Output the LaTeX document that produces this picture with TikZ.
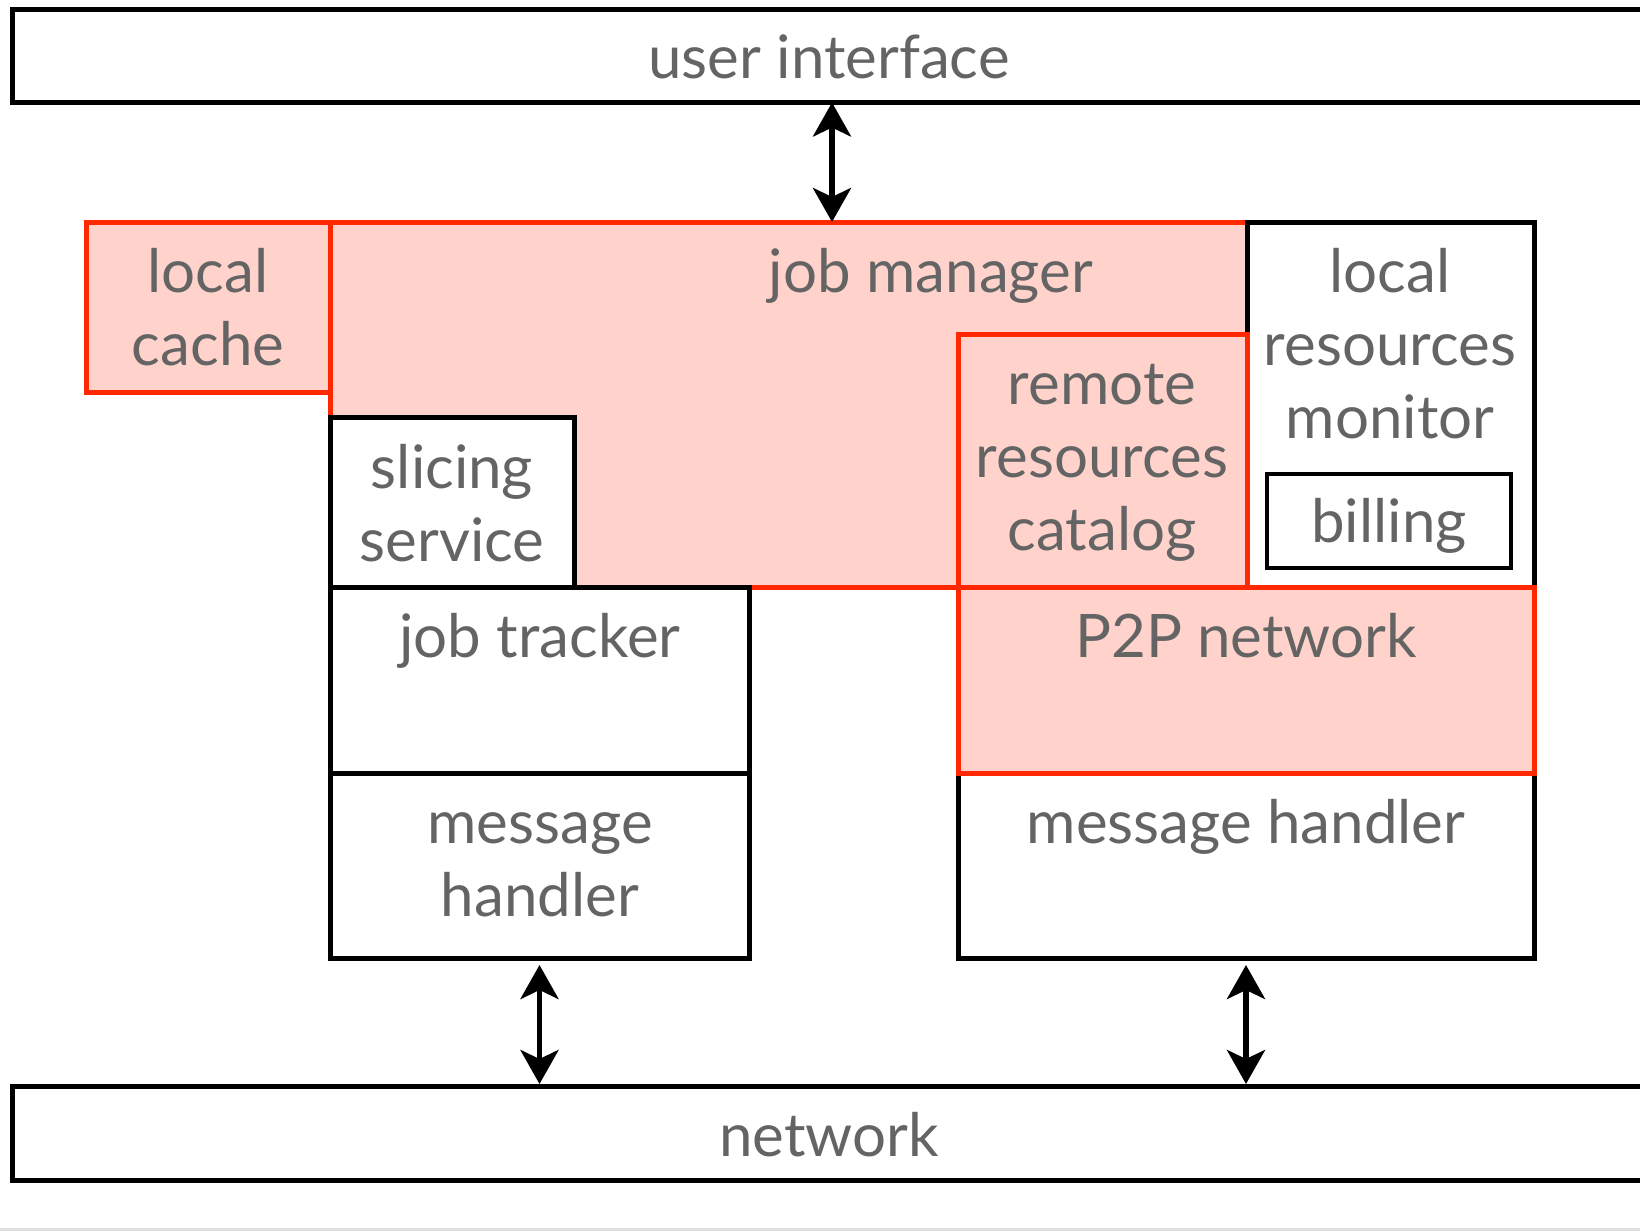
\documentclass[tikz,border=0pt]{standalone}
\usepackage{fontspec}
\setmainfont{Lato}
\usetikzlibrary{arrows.meta}
\definecolor{boxred}{RGB}{255,40,0}
\definecolor{boxpink}{RGB}{255,211,203}
\definecolor{txtgray}{RGB}{100,100,100}
\begin{document}
\begin{tikzpicture}[x=0.5pt,y=-0.5pt,
  box/.style={anchor=north west, inner sep=0pt, outer sep=0pt},
  blackbox/.style={box, draw=black, line width=2.5pt, fill=white},
  redbox/.style={box, draw=boxred, line width=2.5pt, fill=boxpink},
  lbl/.style={anchor=base, align=center, text=txtgray, inner sep=0pt, font=\fontsize{30pt}{36.5pt}\selectfont},
  biarrow/.style={line width=2.75pt, {Stealth[length=17pt,width=19pt,inset=4.5pt]}-{Stealth[length=17pt,width=19pt,inset=4.5pt]}}
]
\useasboundingbox (0,0) rectangle (1640,1231);
\fill[white] (0,0) rectangle (1640,1231);
\fill[black!12] (0,1228) rectangle (1640,1231);

% boxes (drawing order matters)
\node[blackbox, minimum width=825pt, minimum height=46.5pt] (ui) at (12.5,9.5) {};
\node[redbox, minimum width=458.5pt, minimum height=182.5pt] (jm) at (330,222) {};
\node[blackbox, minimum width=143.5pt, minimum height=182.5pt] (lrm) at (1247,222) {};
\node[redbox, minimum width=144.5pt, minimum height=126.5pt] (cat) at (958,334) {};
\node[blackbox, minimum width=122pt, minimum height=85pt] (slc) at (330,417) {};
\node[blackbox, minimum width=209.5pt, minimum height=93pt] (jt) at (330,587) {};
\node[blackbox, minimum width=209.5pt, minimum height=92.5pt] (mhl) at (330,773) {};
\node[blackbox, minimum width=288pt, minimum height=92.5pt] (mhr) at (958,773) {};
\node[redbox, minimum width=288pt, minimum height=93pt] (p2p) at (958,587) {};
\node[blackbox, line width=2.25pt, minimum width=122pt, minimum height=47pt] (bill) at (1267,474) {};
\node[redbox, minimum width=122pt, minimum height=85pt] (lc) at (86,222) {};
\node[blackbox, minimum width=825pt, minimum height=47pt] (net) at (12.5,1086) {};

% labels (anchor = baseline of the last line)
\node[lbl] (tui) at (829,78) {user interface};
\node[lbl] (tjm) at (931,292) {job manager};
\node[lbl] (tlc) at (208,365) {local\\cache};
\node[lbl] (tlrm) at (1390,438) {local\\resources\\monitor};
\node[lbl] (tcat) at (1102,550) {remote\\resources\\catalog};
\node[lbl] (tslc) at (452,561) {slicing\\service};
\node[lbl] (tbill) at (1389,542) {billing};
\node[lbl] (tjt) at (540,657) {job tracker};
\node[lbl] (tp2p) at (1246,657) {P2P network};
\node[lbl] (tmhl) at (540,916) {message\\handler};
\node[lbl] (tmhr) at (1246,843) {message handler};
\node[lbl] (tnet) at (829,1156) {network};

% connectors
\coordinate (ax) at (832,0);
\draw[biarrow] (ax |- ui.south) -- (ax |- jm.north);
\draw[biarrow, shorten <=3.5pt, shorten >=1pt] (mhl.south) -- (mhl.south |- net.north);
\draw[biarrow, shorten <=3.5pt, shorten >=1pt] (mhr.south) -- (mhr.south |- net.north);
\end{tikzpicture}
\end{document}
